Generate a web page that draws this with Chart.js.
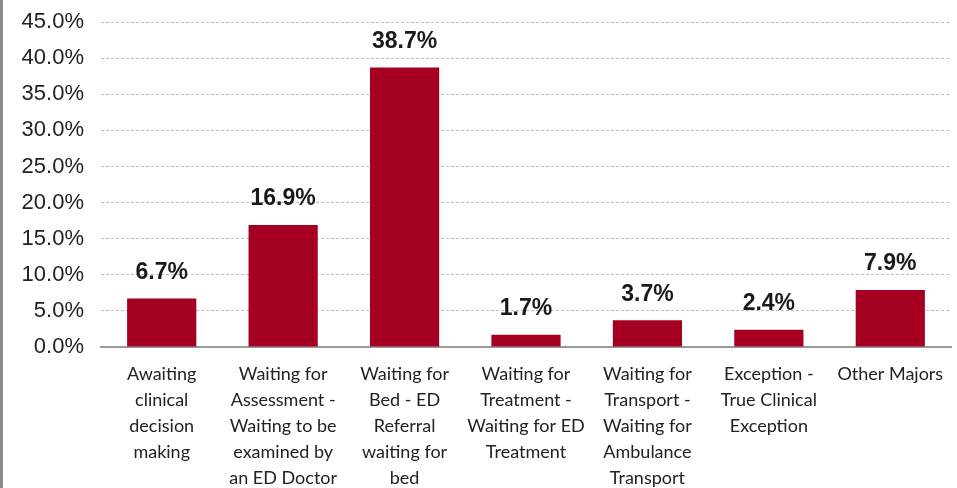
<!DOCTYPE html>
<html>
<head>
<meta charset="utf-8">
<script src="https://cdn.jsdelivr.net/npm/chart.js@4"></script>
<style>
  html, body { margin: 0; padding: 0; background: #fff; }
  #wrap { width: 954px; height: 488px; border-left: 3px solid #8c8c8c; }
</style>
</head>
<body>
<div id="wrap"><canvas id="myChart" width="954" height="488"></canvas></div>
<script>
// Categorias (cada linea del rotulo por separado)
var categories = [
  ['Awaiting', 'clinical', 'decision', 'making'],
  ['Waiting for', 'Assessment -', 'Waiting to be', 'examined by', 'an ED Doctor'],
  ['Waiting for', 'Bed - ED', 'Referral', 'waiting for', 'bed'],
  ['Waiting for', 'Treatment -', 'Waiting for ED', 'Treatment'],
  ['Waiting for', 'Transport -', 'Waiting for', 'Ambulance', 'Transport'],
  ['Exception -', 'True Clinical', 'Exception'],
  ['Other Majors']
];

// Porcentajes
var values = [6.7, 16.9, 38.7, 1.7, 3.7, 2.4, 7.9];

var yMax = 45;
var yStep = 5;

// Etiquetas de valor sobre cada barra
var valueLabels = {
  id: 'valueLabels',
  afterDatasetsDraw: function(chart) {
    var ctx = chart.ctx;
    var meta = chart.getDatasetMeta(0);
    ctx.save();
    ctx.font = 'bold 23px "Liberation Sans", Arial, sans-serif';
    ctx.fillStyle = '#1a1a1a';
    ctx.textAlign = 'center';
    ctx.textBaseline = 'middle';
    meta.data.forEach(function(bar, i) {
      ctx.fillText(values[i].toFixed(1) + '%', bar.x, bar.y - 26);
    });
    ctx.restore();
  }
};

var ctx = document.getElementById('myChart').getContext('2d');
var myChart = new Chart(ctx, {
    type: 'bar',
    data: {
        labels: categories,
        datasets: [{
            label: 'Majors',
            data: values,
            backgroundColor: '#A50021',
            borderWidth: 0,
            barPercentage: 0.57,
            categoryPercentage: 1
        }]
    },
    options: {
        responsive: false,
        animation: false,
        layout: { padding: { top: 22, right: 6, left: 0, bottom: 0 } },
        plugins: {
            legend: { display: false },
            tooltip: { enabled: false }
        },
        scales: {
            x: {
                grid: { display: false, drawTicks: false },
                border: { color: '#999', width: 2 },
                ticks: {
                    maxRotation: 0,
                    autoSkip: false,
                    padding: 14,
                    color: '#222',
                    font: { family: 'Lato, "Open Sans", sans-serif', size: 18, lineHeight: 1.45 }
                },
                afterFit: function(scale) {
                    scale.height = 141;
                    scale.paddingLeft = 0;
                    scale.paddingRight = 0;
                }
            },
            y: {
                min: 0,
                max: yMax,
                grid: {
                    color: '#bfbfbf',
                    drawTicks: false
                },
                border: { display: false, dash: [3, 2] },
                ticks: {
                    stepSize: yStep,
                    padding: 17,
                    color: '#222',
                    font: { family: '"Liberation Sans", Arial, sans-serif', size: 22 },
                    callback: function(v) { return v.toFixed(1) + '%'; }
                },
                afterFit: function(scale) {
                    scale.width = 98;
                    scale.paddingTop = 0;
                    scale.paddingBottom = 0;
                }
            }
        }
    },
    plugins: [valueLabels]
});
</script>
</body>
</html>
